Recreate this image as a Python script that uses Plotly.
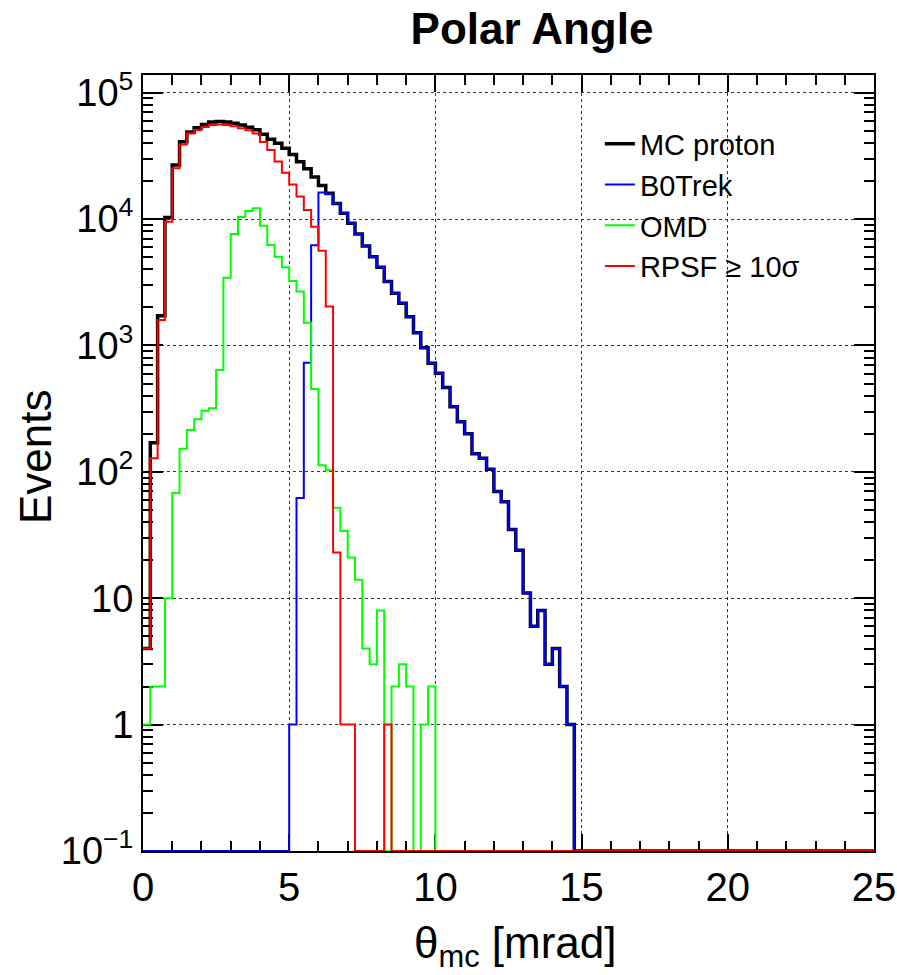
import numpy as np
import plotly.graph_objects as go

# Histogram binning: 100 bins of 0.25 mrad from 0 to 25 mrad
BIN_WIDTH = 0.25
N_BINS = 100

# Events per bin (bins 0..99)
mc_proton = [
    4, 170, 1720, 10300, 26800, 40900, 48900, 52800, 56100, 58500,
    59200, 58500, 57400, 55500, 53200, 50900, 46900, 42800, 39800, 36300,
    32400, 28400, 25000, 21500, 18400, 16000, 13300, 11100, 9270, 7620,
    6120, 5040, 4160, 3200, 2590, 2160, 1690, 1260, 960, 723,
    603, 464, 328, 249, 200, 139, 128, 105, 70, 58,
    35, 24, 11, 6, 8, 3, 4, 2, 1, 0,
    0, 0, 0, 0, 0, 0, 0, 0, 0, 0,
    0, 0, 0, 0, 0, 0, 0, 0, 0, 0,
    0, 0, 0, 0, 0, 0, 0, 0, 0, 0,
    0, 0, 0, 0, 0, 0, 0, 0, 0, 0,
]
b0trek = [
    0, 0, 0, 0, 0, 0, 0, 0, 0, 0,
    0, 0, 0, 0, 0, 0, 0, 0, 0, 0,
    1, 62, 730, 6200, 16200, 15700, 13300, 11100, 9270, 7620,
    6120, 5040, 4160, 3200, 2590, 2160, 1690, 1260, 960, 723,
    603, 464, 328, 249, 200, 139, 128, 105, 70, 58,
    35, 24, 11, 6, 8, 3, 4, 2, 1, 0,
    0, 0, 0, 0, 0, 0, 0, 0, 0, 0,
    0, 0, 0, 0, 0, 0, 0, 0, 0, 0,
    0, 0, 0, 0, 0, 0, 0, 0, 0, 0,
    0, 0, 0, 0, 0, 0, 0, 0, 0, 0,
]
omd = [
    1, 2, 2, 10, 68, 152, 214, 261, 305, 318,
    640, 3440, 7620, 10400, 11600, 12200, 8870, 6240, 5040, 4160,
    3240, 2670, 1510, 453, 113, 103, 52, 34, 21, 14,
    4, 3, 8, 0, 2, 3, 2, 0, 1, 2,
    0, 0, 0, 0, 0, 0, 0, 0, 0, 0,
    0, 0, 0, 0, 0, 0, 0, 0, 0, 0,
    0, 0, 0, 0, 0, 0, 0, 0, 0, 0,
    0, 0, 0, 0, 0, 0, 0, 0, 0, 0,
    0, 0, 0, 0, 0, 0, 0, 0, 0, 0,
    0, 0, 0, 0, 0, 0, 0, 0, 0, 0,
]
rpsf = [
    4, 128, 1590, 9540, 25200, 38900, 47500, 50700, 53500, 55500,
    56100, 55500, 54200, 52300, 50500, 47500, 40700, 35200, 28500, 23300,
    18800, 15100, 11800, 8710, 5620, 2030, 23, 1, 1, 0,
    0, 0, 0, 1, 0, 0, 0, 0, 0, 0,
    0, 0, 0, 0, 0, 0, 0, 0, 0, 0,
    0, 0, 0, 0, 0, 0, 0, 0, 0, 0,
    0, 0, 0, 0, 0, 0, 0, 0, 0, 0,
    0, 0, 0, 0, 0, 0, 0, 0, 0, 0,
    0, 0, 0, 0, 0, 0, 0, 0, 0, 0,
    0, 0, 0, 0, 0, 0, 0, 0, 0, 0,
]

# y axis: 0.1 .. ~1.4e5 on a log scale
Y_MIN_EXP = -1
Y_MAX_EXP = 5.14
y_tickvals = [0.1, 1, 10, 100, 1e3, 1e4, 1e5]
y_ticktext = ["10<sup>\u22121</sup>", "1", "10", "10<sup>2</sup>",
              "10<sup>3</sup>", "10<sup>4</sup>", "10<sup>5</sup>"]
x_tickvals = [0, 5, 10, 15, 20, 25]

FONT = "Liberation Sans, Arial, Helvetica, sans-serif"

W, H = 897, 975

edges = np.arange(N_BINS + 1) * BIN_WIDTH
y_floor = 10 ** Y_MIN_EXP


def step_trace(counts, name, color, width):
    y = np.asarray(counts, dtype=float)
    # empty bins are drawn on the frame floor, the way ROOT does it
    y = np.where(y > 0, y, y_floor)
    y = np.append(y, y[-1])
    return go.Scatter(
        x=edges, y=y, name=name, mode="lines",
        line=dict(color=color, width=width, shape="hv"),
        hoverinfo="skip",
    )


fig = go.Figure()
fig.add_trace(step_trace(mc_proton, "MC proton", "#000000", 3.5))
fig.add_trace(step_trace(b0trek, "B0Trek", "#0000ff", 2))
fig.add_trace(step_trace(omd, "OMD", "#00ff00", 2))
fig.add_trace(step_trace(rpsf, "RPSF \u2265 10\u03c3", "#ff0000", 2))

minor_y = [k * 10.0 ** e for e in range(Y_MIN_EXP, 5) for k in range(2, 10)]

axis_common = dict(
    ticks="inside", tickwidth=2, tickcolor="black",
    showline=True, linewidth=2, linecolor="black", mirror="allticks",
    showgrid=True, gridcolor="#333333", griddash="dot", gridwidth=1,
    zeroline=False, automargin=False, layer="below traces",
    ticklabeloverflow="allow",
)

fig.update_layout(
    width=W, height=H,
    margin=dict(l=143, r=23, t=75, b=124),
    paper_bgcolor="white", plot_bgcolor="white",
    font=dict(family=FONT, color="black"),
    title=dict(
        text="<b>Polar Angle</b>", font=dict(size=44, family=FONT, color="black"),
        x=532 / W, xref="container", xanchor="center",
        y=1 - 29 / H, yref="container", yanchor="middle",
    ),
    xaxis=dict(
        range=[0, 25], tickmode="array", tickvals=x_tickvals, ticklen=17,
        tickfont=dict(size=40, family=FONT, color="black"),
        minor=dict(dtick=1, tick0=0, ticks="inside", ticklen=10, tickwidth=2,
                   tickcolor="black", showgrid=False),
        **axis_common,
    ),
    yaxis=dict(
        type="log", range=[Y_MIN_EXP, Y_MAX_EXP],
        tickmode="array", tickvals=y_tickvals, ticktext=y_ticktext, ticklen=20,
        tickfont=dict(size=38, family=FONT, color="black"),
        minor=dict(tickmode="array", tickvals=minor_y, ticks="inside", ticklen=10,
                   tickwidth=2, tickcolor="black", showgrid=False),
        **axis_common,
    ),
    legend=dict(
        x=0.625, y=0.944, xanchor="left", yanchor="top",
        font=dict(size=29, family=FONT, color="black"),
        bgcolor="rgba(0,0,0,0)", borderwidth=0, tracegroupgap=0,
    ),
    showlegend=True,
    annotations=[
        dict(text="\u03b8<sub>mc</sub> [mrad]", xref="paper", yref="paper",
             x=(515 - 143) / 731, y=-(946 - 851) / 776,
             xanchor="center", yanchor="middle", showarrow=False,
             font=dict(size=44, family=FONT, color="black")),
        dict(text="Events", xref="paper", yref="paper",
             x=(35 - 143) / 731, y=1 - (457 - 75) / 776, textangle=-90,
             xanchor="center", yanchor="middle", showarrow=False,
             font=dict(size=44, family=FONT, color="black")),
    ],
)

# the figure fills the whole window, so drop the browser's default page margin
fig.write_html(
    "out.html",
    config={"displayModeBar": False},
    post_script="document.body.style.margin = '0';",
)
